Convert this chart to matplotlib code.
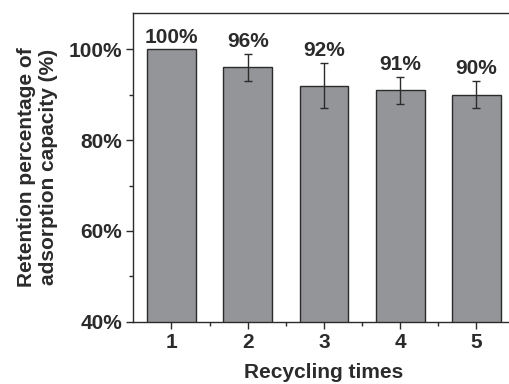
import numpy as np
import matplotlib.pyplot as plt
from matplotlib.ticker import MultipleLocator, FuncFormatter

plt.rcParams.update({
    "font.family": ["Liberation Sans", "DejaVu Sans"],
    "font.weight": "bold",
    "font.size": 15,
})

# data
cycles = [1, 2, 3, 4, 5]
retention = [100, 96, 92, 91, 90]
errors = [0, 3, 5, 3, 3]
bar_labels = ["100%", "96%", "92%", "91%", "90%"]

ink = "#2b2b2b"

fig = plt.figure(figsize=(5.09, 3.84), dpi=100)
ax = fig.add_axes([0.2619, 0.1622, 0.749, 0.804])

ax.bar(cycles, retention, width=0.64, color="#939598", edgecolor=ink,
       linewidth=1.0, zorder=2)
err_idx = [i for i, e in enumerate(errors) if e > 0]
ax.errorbar([cycles[i] for i in err_idx], [retention[i] for i in err_idx],
            yerr=[errors[i] for i in err_idx], fmt="none", ecolor=ink,
            elinewidth=1.0, capsize=3, capthick=1.0, zorder=3)

for x, y, e, s in zip(cycles, retention, errors, bar_labels):
    ax.text(x, y + e + 0.6, s, ha="center", va="bottom",
            fontsize=15, fontweight="bold", color=ink)

ax.set_xlim(0.5, 5.5)
ax.set_ylim(40, 108)
ax.set_xticks(cycles)
ax.xaxis.set_minor_locator(plt.FixedLocator([1.5, 2.5, 3.5, 4.5]))
ax.yaxis.set_major_locator(MultipleLocator(20))
ax.yaxis.set_minor_locator(MultipleLocator(10))
ax.yaxis.set_major_formatter(FuncFormatter(lambda v, p: f"{v:.0f}%"))

ax.tick_params(which="major", direction="out", length=5, width=1.0,
               color=ink, labelcolor=ink, labelsize=15, pad=3)
ax.tick_params(which="minor", direction="out", length=3, width=1.0, color=ink)

for sp in ax.spines.values():
    sp.set_color(ink)
    sp.set_linewidth(1.0)

ax.set_xlabel("Recycling times", fontsize=15, fontweight="bold",
              color=ink, labelpad=8)
ax.set_ylabel("Retention percentage of\nadsorption capacity (%)",
              fontsize=15, fontweight="bold", color=ink, labelpad=8,
              linespacing=1.15)

fig.savefig("out.png", dpi=100)
